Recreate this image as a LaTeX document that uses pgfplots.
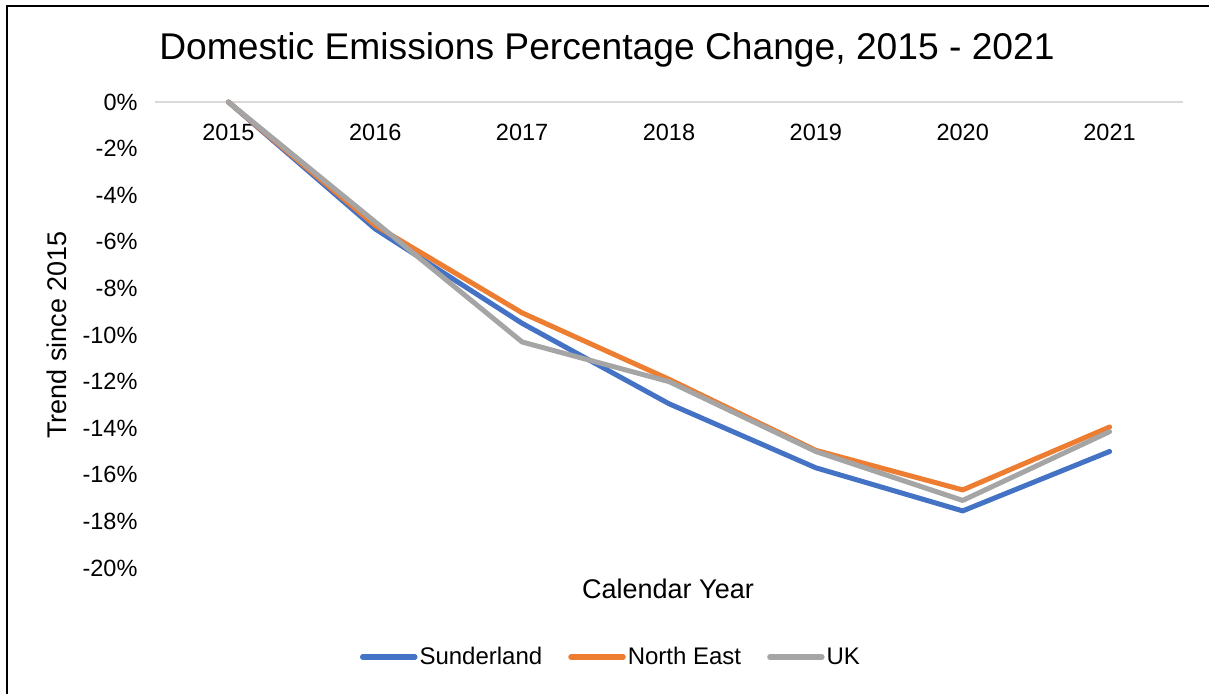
\documentclass[border=0pt]{standalone}
\usepackage{pgfplots}
\pgfplotsset{compat=1.18}
\usepackage{fontspec}
\setmainfont{Liberation Sans}

\definecolor{cBlue}{HTML}{4472C4}
\definecolor{cOrange}{HTML}{ED7D31}
\definecolor{cGray}{HTML}{A5A5A5}
\definecolor{cGrid}{HTML}{D9D9D9}

\begin{document}
\begin{tikzpicture}
% page frame
\path[use as bounding box] (0pt,0pt) rectangle (1209pt,693pt);
\draw[line width=2pt,black] (6.5pt,-2pt) -- (6.5pt,686.5pt) -- (1212pt,686.5pt);

\begin{axis}[
  at={(155pt,125pt)}, anchor=south west,
  scale only axis, width=1028pt, height=466pt,
  xmin=-0.5, xmax=6.5, ymin=-20, ymax=0,
  axis line style={draw=none},
  tick style={draw=none},
  xtick={0,...,6},
  xticklabels={2015,2016,2017,2018,2019,2020,2021},
  xticklabel pos=right,
  xticklabel style={anchor=north, yshift=-19pt, font=\fontsize{23.5}{28}\selectfont},
  ytick={-20,-18,...,0},
  yticklabels={-20\%,-18\%,-16\%,-14\%,-12\%,-10\%,-8\%,-6\%,-4\%,-2\%,0\%},
  yticklabel style={anchor=east, xshift=-14pt, font=\fontsize{23.5}{28}\selectfont},
  clip=false,
  legend columns=3,
  legend style={at={(0.4436,-0.191)}, anchor=center, draw=none, fill=none,
    font=\fontsize{24}{28}\selectfont,
    /tikz/every even column/.append style={column sep=24pt}},
  legend image code/.code={\draw[#1,line width=5.5pt] (0pt,0pt) -- (52pt,0pt);},
  every axis plot/.append style={line width=5pt, line join=round, line cap=round},
]
\draw[cGrid, line width=2pt] (axis cs:-0.5,0) -- (axis cs:6.5,0);

\addplot[cBlue] coordinates {
  (0,0) (1,-5.45) (2,-9.5) (3,-12.95) (4,-15.7) (5,-17.55) (6,-15.0)};
\addlegendentry{Sunderland}
\addplot[cOrange] coordinates {
  (0,0) (1,-5.3) (2,-9.05) (3,-11.9) (4,-14.95) (5,-16.65) (6,-13.95)};
\addlegendentry{North East}
\addplot[cGray] coordinates {
  (0,0) (1,-5.15) (2,-10.3) (3,-12.0) (4,-15.0) (5,-17.1) (6,-14.15)};
\addlegendentry{UK}
\end{axis}

\node[font=\fontsize{37.2}{44}\selectfont] at (607pt,643pt) {Domestic Emissions Percentage Change, 2015 - 2021};
\node[font=\fontsize{27}{32}\selectfont, rotate=90] at (57pt,358pt) {Trend since 2015};
\node[font=\fontsize{27}{32}\selectfont] at (668pt,104pt) {Calendar Year};
\end{tikzpicture}
\end{document}
